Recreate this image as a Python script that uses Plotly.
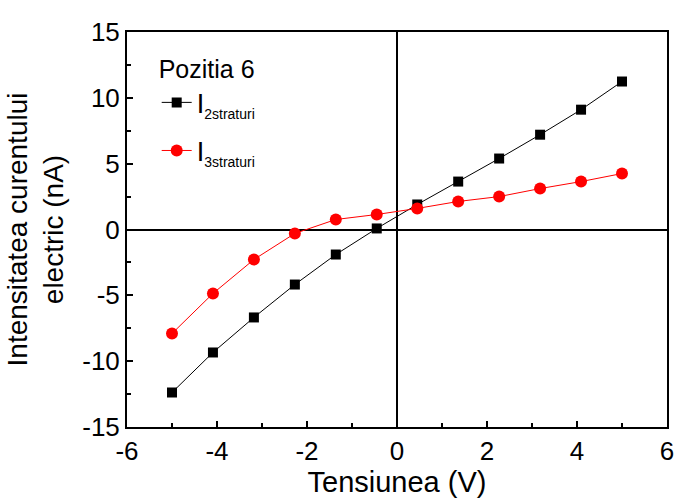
import plotly.graph_objects as go

voltage = [-5, -4.09, -3.18, -2.27, -1.36, -0.45, 0.45, 1.36, 2.27, 3.18, 4.09, 5]
i_2strat = [-12.38, -9.34, -6.68, -4.18, -1.9, 0.08, 1.9, 3.64, 5.39, 7.2, 9.1, 11.24]
i_3strat = [-7.9, -4.86, -2.28, -0.3, 0.76, 1.14, 1.6, 2.13, 2.5, 3.11, 3.64, 4.25]
x_ticks = [-6, -4, -2, 0, 2, 4, 6]
y_ticks = [-15, -10, -5, 0, 5, 10, 15]

font = "Liberation Sans, Arial, sans-serif"
sub = '<sub><span style="font-size:14px">{}</span></sub>'

fig = go.Figure()
fig.add_trace(go.Scatter(x=voltage, y=i_2strat, mode="lines+markers",
                         name="I" + sub.format("2straturi"), legendgroup="a",
                         line=dict(color="black", width=1),
                         marker=dict(symbol="square", size=10, color="black")))
fig.add_trace(go.Scatter(x=voltage, y=i_3strat, mode="lines+markers",
                         name="I" + sub.format("3straturi"), legendgroup="b",
                         line=dict(color="red", width=1),
                         marker=dict(symbol="circle", size=12, color="red")))

axis_common = dict(showline=True, linewidth=2, linecolor="black", mirror=True,
                   ticks="inside", ticklen=6, tickwidth=2, tickcolor="black",
                   showgrid=False, zeroline=True, zerolinecolor="black", zerolinewidth=2,
                   automargin=False,
                   tickfont=dict(family=font, size=26, color="black"))

fig.update_xaxes(range=[-6, 6], tickvals=x_ticks, ticktext=[str(v) for v in x_ticks],
                 title=dict(text="Tensiunea (V)", font=dict(family=font, size=29, color="black"), standoff=4),
                 minor=dict(ticks="inside", ticklen=4, tickwidth=2, tickcolor="black", dtick=1, tick0=0),
                 **axis_common)
fig.update_yaxes(range=[-15, 15], tickvals=y_ticks, ticktext=[str(v) for v in y_ticks],
                 title=dict(text="Intensitatea curentului<br>electric (nA)", font=dict(family=font, size=28, color="black"), standoff=10),
                 minor=dict(ticks="inside", ticklen=4, tickwidth=2, tickcolor="black", dtick=2.5, tick0=0),
                 **axis_common)

fig.update_layout(width=679, height=500, plot_bgcolor="white", paper_bgcolor="white",
                  margin=dict(l=127, r=12, t=32, b=73),
                  font=dict(family=font, color="black"),
                  showlegend=True,
                  legend=dict(x=0.055, y=0.965, xanchor="left", yanchor="top",
                              bgcolor="rgba(0,0,0,0)", traceorder="grouped",
                              title=dict(text="Pozitia 6", font=dict(family=font, size=25)),
                              font=dict(family=font, size=27), tracegroupgap=10))

fig.write_html("out.html")
